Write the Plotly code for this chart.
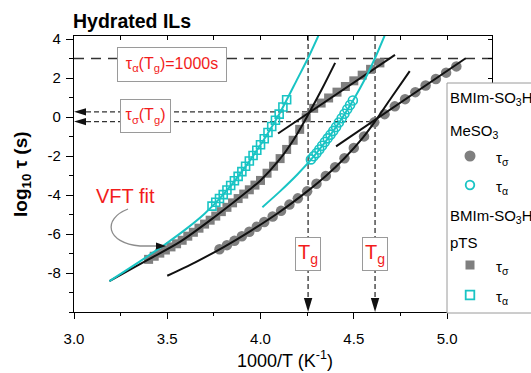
import plotly.graph_objects as go

# ---- BMIm-SO3H pTS : conductivity relaxation time (log10 tau_sigma / s)
pts_sigma_x = [3.40, 3.43, 3.46, 3.49, 3.52, 3.55, 3.58, 3.61, 3.64, 3.67, 3.70, 3.73,
               3.76, 3.79, 3.82, 3.85, 3.88, 3.91, 3.94, 3.97, 4.00, 4.035, 4.07, 4.105,
               4.14, 4.175, 4.21, 4.245, 4.285, 4.325, 4.365, 4.41, 4.455, 4.50, 4.545,
               4.59, 4.64]
pts_sigma_y = [-7.30, -7.14, -6.98, -6.82, -6.66, -6.50, -6.32, -6.11, -5.91, -5.70, -5.49,
               -5.29, -5.08, -4.85, -4.63, -4.40, -4.18, -3.95, -3.73, -3.49, -3.25, -2.88,
               -2.52, -2.13, -1.66, -1.19, -0.63, -0.03, 0.45, 0.72, 0.98, 1.28, 1.57, 1.86,
               2.15, 2.45, 2.78]

# ---- BMIm-SO3H pTS : structural relaxation time (log10 tau_alpha / s)
pts_alpha_x = [3.74, 3.76, 3.78, 3.80, 3.82, 3.84, 3.86, 3.88, 3.90, 3.92, 3.94, 3.96,
               3.98, 4.00, 4.02, 4.04, 4.06, 4.08, 4.10, 4.12, 4.14]
pts_alpha_y = [-4.57, -4.37, -4.18, -3.98, -3.74, -3.51, -3.27, -3.04, -2.80, -2.52, -2.25,
               -1.97, -1.70, -1.42, -1.11, -0.79, -0.48, -0.16, 0.15, 0.52, 0.89]

# ---- BMIm-SO3H MeSO3 : tau_sigma
mes_sigma_x = [3.78, 3.82, 3.86, 3.90, 3.94, 3.98, 4.02, 4.065, 4.11, 4.155, 4.20, 4.25,
               4.30, 4.35, 4.40, 4.45, 4.50, 4.555, 4.61, 4.665, 4.72, 4.775, 4.83, 4.885,
               4.94, 4.995, 5.05]
mes_sigma_y = [-6.78, -6.57, -6.35, -6.11, -5.88, -5.63, -5.38, -5.10, -4.81, -4.49, -4.17,
               -3.81, -3.42, -3.02, -2.57, -2.11, -1.58, -0.99, -0.27, 0.15, 0.55, 0.92,
               1.28, 1.62, 1.95, 2.28, 2.60]

# ---- BMIm-SO3H MeSO3 : tau_alpha
mes_alpha_x = [4.27, 4.285, 4.30, 4.315, 4.33, 4.345, 4.36, 4.375, 4.39, 4.405, 4.42,
               4.435, 4.45, 4.465, 4.48, 4.495]
mes_alpha_y = [-2.17, -2.01, -1.85, -1.66, -1.47, -1.28, -1.09, -0.90, -0.71, -0.51, -0.28,
               -0.06, 0.17, 0.40, 0.62, 0.85]

# ---- fitted curves (VFT above Tg, Arrhenius-like below Tg)
pts_vft_x = [3.19, 3.25, 3.40, 3.57, 3.75, 3.94, 4.00, 4.10, 4.18, 4.255, 4.33, 4.40]
pts_vft_y = [-8.42, -8.10, -7.30, -6.39, -5.15, -3.73, -3.25, -2.20, -1.12, 0.12, 1.45, 2.78]
pts_glass_x = [4.094, 4.721]
pts_glass_y = [-0.84, 3.19]
pts_alpha_vft_x = [3.19, 3.30, 3.40, 3.50, 3.60, 3.70, 3.80, 3.90, 4.00, 4.10, 4.20, 4.255, 4.31]
pts_alpha_vft_y = [-8.42, -7.74, -7.10, -6.45, -5.75, -4.96, -3.98, -2.80, -1.42, 0.15, 2.00,
                   3.03, 4.17]

mes_vft_x = [3.50, 3.65, 3.80, 3.95, 4.10, 4.25, 4.35, 4.45, 4.55, 4.614, 4.70, 4.80]
mes_vft_y = [-8.14, -7.45, -6.68, -5.82, -4.88, -3.81, -3.02, -2.11, -1.04, -0.22, 0.98, 2.36]
mes_glass_x = [4.405, 5.10]
mes_glass_y = [-1.50, 3.02]
mes_alpha_vft_x = [4.01, 4.10, 4.20, 4.30, 4.40, 4.50, 4.56, 4.614, 4.665]
mes_alpha_vft_y = [-4.62, -3.85, -2.92, -1.85, -0.58, 0.92, 1.95, 3.03, 4.17]

# glass transition: 1000/Tg and log10 tau_sigma(Tg) for pTS, MeSO3
tg_x = [4.255, 4.614]
log_tau_sigma_tg = [0.27, -0.23]
log_tau_alpha_tg = 3.0          # tau_alpha(Tg) = 1000 s

x_ticks = [3.0, 3.5, 4.0, 4.5, 5.0]
x_tick_labels = ["3.0", "3.5", "4.0", "4.5", "5.0"]
y_ticks = [-8, -6, -4, -2, 0, 2, 4]
y_tick_labels = ["-8", "-6", "-4", "-2", "0", "2", "4"]

# ---- geometry
W, H = 531, 373
ML, MR, MT, MB = 74, 39, 36, 61
X_RANGE = [3.0, 5.241]
Y_RANGE = [-10.0, 4.16]
PW, PH = W - ML - MR, H - MT - MB
SX = PW / (X_RANGE[1] - X_RANGE[0])
SY = PH / (Y_RANGE[1] - Y_RANGE[0])


def paper(xp, yp):
    """pixel position on the page -> paper coordinates"""
    return (xp - ML) / PW, (H - MB - yp) / PH


def data(xp, yp):
    """pixel position on the page -> data coordinates"""
    return X_RANGE[0] + (xp - ML) / SX, Y_RANGE[1] - (yp - MT) / SY


FONT = "Liberation Sans, Arial, sans-serif"
GREY = "#7f7f7f"
CYAN = "#19c4c4"
BLACK = "#111111"
RED = "#f21c1c"
DASH = "#333333"

fig = go.Figure()

# data markers
fig.add_trace(go.Scatter(x=pts_sigma_x, y=pts_sigma_y, mode="markers",
                         marker=dict(symbol="square", size=9, color=GREY, line=dict(width=0))))
fig.add_trace(go.Scatter(x=mes_sigma_x, y=mes_sigma_y, mode="markers",
                         marker=dict(symbol="circle", size=10.5, color=GREY, line=dict(width=0))))
fig.add_trace(go.Scatter(x=pts_alpha_x, y=pts_alpha_y, mode="markers",
                         marker=dict(symbol="square-open", size=8, color=CYAN,
                                     line=dict(width=1.6, color=CYAN))))
fig.add_trace(go.Scatter(x=mes_alpha_x, y=mes_alpha_y, mode="markers",
                         marker=dict(symbol="circle-open", size=9, color=CYAN,
                                     line=dict(width=1.6, color=CYAN))))

# fit curves
for cx, cy, col in [(pts_vft_x, pts_vft_y, BLACK), (pts_glass_x, pts_glass_y, BLACK),
                    (mes_vft_x, mes_vft_y, BLACK), (mes_glass_x, mes_glass_y, BLACK),
                    (pts_alpha_vft_x, pts_alpha_vft_y, CYAN),
                    (mes_alpha_vft_x, mes_alpha_vft_y, CYAN)]:
    fig.add_trace(go.Scatter(x=cx, y=cy, mode="lines",
                             line=dict(color=col, width=2, shape="spline", smoothing=0.8)))

# invisible trace carrying the mirrored (top/right) axes
fig.add_trace(go.Scatter(x=[X_RANGE[0]], y=[Y_RANGE[0]], xaxis="x2", yaxis="y2",
                         mode="markers", marker=dict(opacity=0), hoverinfo="skip"))

shapes = []
# tau_alpha(Tg) = 1000 s level
shapes.append(dict(type="line", xref="x", yref="y", x0=X_RANGE[0], x1=X_RANGE[1],
                   y0=log_tau_alpha_tg, y1=log_tau_alpha_tg, layer="below",
                   line=dict(color=DASH, width=1.5, dash="10px,7px")))
ah_len, ah_half = 12, 3.6
for xv, yv in zip(tg_x, log_tau_sigma_tg):
    # tau_sigma(Tg) level, arrow to the y axis
    shapes.append(dict(type="line", xref="x", yref="y", x0=X_RANGE[0] + ah_len / SX, x1=xv,
                       y0=yv, y1=yv, layer="below",
                       line=dict(color=DASH, width=1.3, dash="5px,3px")))
    shapes.append(dict(type="path", xref="x", yref="y", layer="above",
                       path=f"M {X_RANGE[0]},{yv} L {X_RANGE[0] + ah_len / SX},{yv + ah_half / SY} "
                            f"L {X_RANGE[0] + ah_len / SX},{yv - ah_half / SY} Z",
                       fillcolor=BLACK, line=dict(width=0)))
    # Tg, arrow to the x axis
    shapes.append(dict(type="line", xref="x", yref="y", x0=xv, x1=xv, y0=Y_RANGE[1],
                       y1=Y_RANGE[0] + ah_len / SY, layer="below",
                       line=dict(color=DASH, width=1.3, dash="5px,3px")))
    shapes.append(dict(type="path", xref="x", yref="y", layer="above",
                       path=f"M {xv},{Y_RANGE[0]} L {xv - 4.2 / SX},{Y_RANGE[0] + 14 / SY} "
                            f"L {xv + 4.2 / SX},{Y_RANGE[0] + 14 / SY} Z",
                       fillcolor=BLACK, line=dict(width=0)))

# curved grey pointer for the "VFT fit" label
p0, c1, c2, p1, p2 = data(128, 209), data(102, 219), data(106, 243), data(140, 246), data(157, 246)
shapes.append(dict(type="path", xref="x", yref="y", layer="above",
                   path=f"M {p0[0]},{p0[1]} C {c1[0]},{c1[1]} {c2[0]},{c2[1]} {p1[0]},{p1[1]} "
                        f"L {p2[0]},{p2[1]}",
                   line=dict(color="#8c8c8c", width=1.3)))
t0, b1, b2 = data(166, 246), data(156, 242.5), data(156, 249.5)
shapes.append(dict(type="path", xref="x", yref="y", layer="above",
                   path=f"M {t0[0]},{t0[1]} L {b1[0]},{b1[1]} L {b2[0]},{b2[1]} Z",
                   fillcolor=BLACK, line=dict(width=0)))

# legend frame and glyphs
lx0, ly0 = paper(447, 313)
lx1, ly1 = paper(548, 83)
shapes.append(dict(type="rect", xref="paper", yref="paper", x0=lx0, x1=lx1, y0=ly0, y1=ly1,
                   layer="above", fillcolor="white", line=dict(color="#9a9a9a", width=1)))


def glyph(kind, xc, yc, r, fill, edge, lw):
    a = paper(xc - r, yc + r)
    b = paper(xc + r, yc - r)
    return dict(type=kind, xref="paper", yref="paper", x0=a[0], y0=a[1], x1=b[0], y1=b[1],
                layer="above", fillcolor=fill, line=dict(color=edge, width=lw))


shapes.append(glyph("circle", 470, 156, 5.5, GREY, GREY, 0))
shapes.append(glyph("circle", 470, 185, 4.3, "white", CYAN, 1.8))
shapes.append(glyph("rect", 470, 265, 4.5, GREY, GREY, 0))
shapes.append(glyph("rect", 470, 295, 4.3, "white", CYAN, 1.8))

annotations = []


def note(text, xp, yp, size, color="black", xanchor="center", **kw):
    px_, py_ = paper(xp, yp)
    annotations.append(dict(text=text, xref="paper", yref="paper", x=px_, y=py_,
                            xanchor=xanchor, yanchor="middle", showarrow=False,
                            font=dict(family=FONT, size=size, color=color), **kw))


note("<b>Hydrated ILs</b>", 71, 21, 19.5, xanchor="left")
note("<b>log<sub>10</sub> τ (s)</b>", 22, 174, 19, textangle=-90)
note("1000/T (K<sup>-1</sup>)", 285, 359, 18)
note("VFT fit", 125, 196, 20, color=RED)

box = dict(bgcolor="white", bordercolor="#9a9a9a", borderwidth=1, borderpad=1)
note("τ<sub>α</sub>(T<sub>g</sub>)=1000s", 172, 64.5, 16, color=RED, width=106, height=31, **box)
note("τ<sub>σ</sub>(T<sub>g</sub>)", 145.5, 116, 16, color=RED, width=47, height=30, **box)
for xv in tg_x:
    annotations.append(dict(text="T<sub>g</sub>", xref="x", yref="y", x=xv, y=-7.0,
                            showarrow=False, width=22, height=30,
                            font=dict(family=FONT, size=20, color=RED), **box))

# legend text
note("BMIm-SO<sub>3</sub>H", 448, 98, 15, xanchor="left")
note("MeSO<sub>3</sub>", 448, 131, 15, xanchor="left")
note("τ<sub>σ</sub>", 494, 158, 15, xanchor="left")
note("τ<sub>α</sub>", 494, 187, 15, xanchor="left")
note("BMIm-SO<sub>3</sub>H", 448, 216, 15, xanchor="left")
note("pTS", 448, 242, 15, xanchor="left")
note("τ<sub>σ</sub>", 494, 267, 15, xanchor="left")
note("τ<sub>α</sub>", 494, 297, 15, xanchor="left")

axis_common = dict(showgrid=False, zeroline=False, showline=True, linecolor="black",
                   linewidth=1.3, tickcolor="black", tickwidth=1.3, fixedrange=True)

fig.update_layout(
    width=W, height=H, showlegend=False,
    margin=dict(l=ML, r=MR, t=MT, b=MB, autoexpand=False),
    paper_bgcolor="white", plot_bgcolor="white",
    font=dict(family=FONT, color="black"),
    xaxis=dict(range=X_RANGE, tickmode="array", tickvals=x_ticks, ticktext=x_tick_labels,
               ticks="outside", ticklen=6, ticklabelstandoff=7,
               minor=dict(ticks="outside", ticklen=3, tick0=3.0, dtick=0.25,
                          tickcolor="black", tickwidth=1.2),
               tickfont=dict(size=15), **axis_common),
    yaxis=dict(range=Y_RANGE, tickmode="array", tickvals=y_ticks, ticktext=y_tick_labels,
               ticks="outside", ticklen=7, ticklabelstandoff=2,
               minor=dict(ticks="outside", ticklen=4, tick0=0, dtick=1,
                          tickcolor="black", tickwidth=1.2),
               tickfont=dict(size=15), **axis_common),
    xaxis2=dict(range=X_RANGE, overlaying="x", side="top", anchor="y", ticks="inside",
                ticklen=4, tick0=3.0, dtick=0.25, showticklabels=False, **axis_common),
    yaxis2=dict(range=Y_RANGE, overlaying="y", side="right", anchor="x", ticks="inside",
                ticklen=4, tick0=0, dtick=1, showticklabels=False, **axis_common),
    shapes=shapes, annotations=annotations,
)

fig.write_html("out.html")
